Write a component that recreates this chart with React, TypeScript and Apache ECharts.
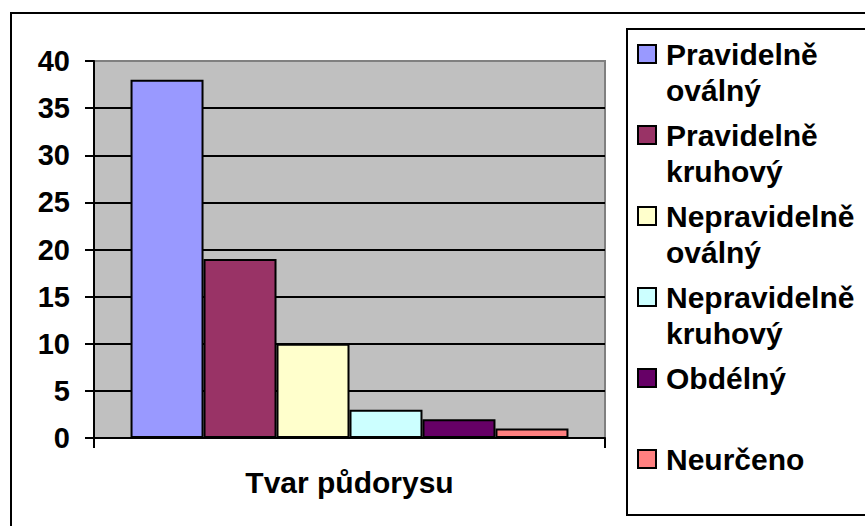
import React, { useEffect, useRef } from "react";
import * as echarts from "echarts";

const categories = ["Tvar půdorysu"];
const seriesNames = [
  "Pravidelně oválný",
  "Pravidelně kruhový",
  "Nepravidelně oválný",
  "Nepravidelně kruhový",
  "Obdélný",
  "Neurčeno",
];
const legendLabels = [
  "Pravidelně\noválný",
  "Pravidelně\nkruhový",
  "Nepravidelně\noválný",
  "Nepravidelně\nkruhový",
  "Obdélný",
  "Neurčeno",
];
const values = [38, 19, 10, 3, 2, 1];
const colors = ["#9999FF", "#993366", "#FFFFCC", "#CCFFFF", "#660066", "#FF8080"];
const yMin = 0;
const yMax = 40;
const yInterval = 5;

const FONT = "'Liberation Sans', Arial, sans-serif";

export default function App() {
  const ref = useRef<HTMLDivElement>(null);
  useEffect(() => {
    if (!ref.current) return;
    const chart = echarts.init(ref.current, null, { renderer: "svg" });
    const labelMap: Record<string, string> = {};
    seriesNames.forEach((n, i) => {
      const l = legendLabels[i];
      labelMap[n] = l.includes("\n") ? "\n" + l : l;
    });
    chart.setOption({
      animation: false,
      backgroundColor: "#FFFFFF",
      grid: {
        left: 94,
        top: 61,
        right: 260,
        bottom: 88,
        show: true,
        backgroundColor: "#C0C0C0",
        borderColor: "#808080",
        borderWidth: 2,
      },
      graphic: [
        {
          type: "rect",
          shape: { x: 11, y: 13, width: 900, height: 560 },
          style: { fill: "none", stroke: "#000", lineWidth: 2 },
          silent: true,
        },
        {
          type: "rect",
          shape: { x: 627, y: 29, width: 300, height: 486 },
          style: { fill: "none", stroke: "#000", lineWidth: 2 },
          silent: true,
        },
      ],
      legend: {
        orient: "vertical",
        left: 637,
        top: 0,
        padding: 0,
        itemGap: -27,
        itemWidth: 18,
        itemHeight: 18,
        icon: "rect",
        selectedMode: false,
        formatter: (name: string) => labelMap[name] ?? name,
        itemStyle: { borderColor: "#000", borderWidth: 2 },
        textStyle: {
          fontFamily: FONT,
          fontSize: 30,
          fontWeight: "bold",
          color: "#000",
          lineHeight: 36,
          backgroundColor: "rgba(0,0,0,0)",
        },
        data: seriesNames.map((n, i) => ({
          name: n,
          textStyle: {
            padding: legendLabels[i].includes("\n") ? [0, 0, 0, 5] : [36, 0, 36, 5],
          },
        })),
      },
      xAxis: {
        type: "category",
        data: categories,
        axisLine: { lineStyle: { color: "#000", width: 2 } },
        axisTick: { show: true, length: 10, lineStyle: { color: "#000", width: 2 } },
        axisLabel: {
          fontFamily: FONT,
          fontSize: 30,
          fontWeight: "bold",
          color: "#000",
          margin: 29,
        },
      },
      yAxis: {
        type: "value",
        min: yMin,
        max: yMax,
        interval: yInterval,
        axisLine: { show: true, lineStyle: { color: "#000", width: 2 } },
        axisTick: { show: true, length: 9, lineStyle: { color: "#000", width: 2 } },
        axisLabel: {
          fontFamily: FONT,
          fontSize: 29,
          fontWeight: "bold",
          color: "#000",
          margin: 24,
        },
        splitLine: { show: true, showMaxLine: false, lineStyle: { color: "#000", width: 2 } },
      },
      series: seriesNames.map((n, i) => ({
        name: n,
        type: "bar",
        data: [values[i]],
        barGap: "0%",
        barCategoryGap: "14.3%",
        itemStyle: { color: colors[i], borderColor: "#000", borderWidth: 2 },
      })),
    });
    return () => chart.dispose();
  }, []);
  return (
    <div
      ref={ref}
      style={{ position: "fixed", left: 0, top: 0, width: 865, height: 526 }}
    />
  );
}
